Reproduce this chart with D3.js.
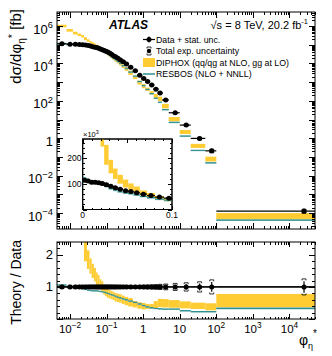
<!DOCTYPE html>
<html>
<head>
<meta charset="utf-8">
<script src="https://cdn.jsdelivr.net/npm/d3@7/dist/d3.min.js"></script>
<style>
  body { margin: 0; background: #fff; }
  svg { display: block; font-family: "Liberation Sans", Arial, Helvetica, sans-serif; }
</style>
</head>
<body>
<svg id="chart" width="332" height="356"></svg>
<script>
// phi*_eta bin edges
const phiEdges = [0, 0.004, 0.008, 0.012, 0.016, 0.020, 0.024, 0.029, 0.034, 0.039, 0.045,
    0.051, 0.057, 0.064, 0.072, 0.081, 0.091, 0.102, 0.114, 0.128, 0.145, 0.165, 0.189,
    0.219, 0.258, 0.312, 0.391, 0.524, 0.695, 0.918, 1.153, 1.496, 1.947, 2.522, 3.277,
    5, 10, 20, 50, 100, 50000];

// measured dsigma/dphi* [fb]
const dataXsec = [114000, 111000, 106000, 106000, 104000, 101000, 97000, 90500, 84500, 78700,
    73400, 70100, 65500, 59700, 54500, 48500, 44300, 40400, 36000, 30600,
    25500, 22700, 18900, 15300, 12200, 9250, 6250, 4040, 2320, 1570,
    1085, 703, 423, 267, 111, 23.2, 5.1, 0.99, 0.214, 0.00013];
// relative uncertainties
const dataStat = [0.02, 0.02, 0.02, 0.02, 0.02, 0.02, 0.02, 0.02, 0.02, 0.02,
    0.02, 0.02, 0.02, 0.02, 0.02, 0.02, 0.02, 0.02, 0.02, 0.02,
    0.02, 0.02, 0.02, 0.02, 0.02, 0.02, 0.02, 0.02, 0.02, 0.025,
    0.03, 0.035, 0.04, 0.05, 0.06, 0.07, 0.09, 0.11, 0.15, 0.18];
const dataTotal = [0.05, 0.05, 0.05, 0.05, 0.05, 0.05, 0.05, 0.05, 0.05, 0.05,
    0.05, 0.05, 0.05, 0.05, 0.05, 0.05, 0.05, 0.05, 0.05, 0.05,
    0.05, 0.05, 0.05, 0.05, 0.05, 0.05, 0.05, 0.05, 0.05, 0.055,
    0.06, 0.065, 0.07, 0.08, 0.09, 0.11, 0.13, 0.16, 0.22, 0.25];

// theory / data
const diphoxRatio = [14, 9.1, 5.6, 4.0, 3.3, 2.85, 2.2, 1.85, 1.65, 1.5,
    1.38, 1.25, 1.17, 1.08, 1.02, 0.92, 0.86, 0.8, 0.77, 0.75,
    0.72, 0.68, 0.66, 0.64, 0.6, 0.56, 0.52, 0.46, 0.42, 0.4,
    0.39, 0.39, 0.45, 0.5, 0.49, 0.47, 0.44, 0.41, 0.38, 0.57];
const diphoxErr = [2.0, 1.4, 0.9, 0.65, 0.5, 0.42, 0.4, 0.29, 0.24, 0.22,
    0.21, 0.2, 0.2, 0.16, 0.16, 0.16, 0.15, 0.14, 0.13, 0.13,
    0.13, 0.13, 0.13, 0.13, 0.13, 0.13, 0.13, 0.1, 0.1, 0.1,
    0.08, 0.08, 0.11, 0.13, 0.13, 0.12, 0.11, 0.1, 0.11, 0.21];
const resbosRatio = [1.08, 1.06, 1.0, 0.98, 0.97, 0.95, 0.93, 0.9, 0.89, 0.88,
    0.88, 0.88, 0.87, 0.86, 0.85, 0.84, 0.82, 0.8, 0.78, 0.76,
    0.74, 0.71, 0.68, 0.66, 0.63, 0.6, 0.56, 0.52, 0.47, 0.42,
    0.38, 0.35, 0.33, 0.32, 0.31, 0.31, 0.26, 0.23, 0.23, 0.33];
const resbosErr = [0.01, 0.01, 0.01, 0.01, 0.01, 0.01, 0.01, 0.01, 0.01, 0.01,
    0.01, 0.01, 0.01, 0.01, 0.01, 0.01, 0.01, 0.01, 0.01, 0.01,
    0.01, 0.01, 0.01, 0.01, 0.01, 0.01, 0.01, 0.01, 0.01, 0.01,
    0.01, 0.01, 0.01, 0.01, 0.01, 0.01, 0.01, 0.01, 0.01, 0.03];

// tick labels
const xTickValues = [0.01, 0.1, 1, 10, 100, 1000, 10000];
const xTickLabels = [["10", "\u22122"], ["10", "\u22121"], ["1", ""], ["10", ""], ["10", "2"], ["10", "3"], ["10", "4"]];
const yTickValues = [1e-4, 1e-2, 1, 1e2, 1e4, 1e6];
const yTickLabels = [["10", "\u22124"], ["10", "\u22122"], ["1", ""], ["10", "2"], ["10", "4"], ["10", "6"]];
const ratioTickValues = [1, 2];
const insetXTickValues = [0, 0.1];
const insetXTickLabels = ["0", "0.1"];
const insetYTickValues = [100, 200];

const YELLOW = "#ffcc33", TEAL = "#2f8f8f", TEAL_LIGHT = "#8cc3c3";

const bins = dataXsec.map((v, i) => ({
    lo: phiEdges[i], hi: phiEdges[i + 1], v: v,
    stat: dataStat[i], tot: dataTotal[i],
    dr: diphoxRatio[i], de: diphoxErr[i],
    rr: resbosRatio[i], re: resbosErr[i]
}));

const svg = d3.select("#chart");
const defs = svg.append("defs");

const mainBox = {x0: 57, x1: 315, y0: 12, y1: 229};
const ratioBox = {x0: 57, x1: 315, y0: 242, y1: 319};
const insetBox = {x0: 82.7, x1: 172, y0: 139, y1: 209.5};

const xScale = d3.scaleLog().domain([0.0044, 50000]).range([mainBox.x0, mainBox.x1]);
const yScale = d3.scaleLog().domain([Math.pow(10, -4.844), Math.pow(10, 6.748)]).range([mainBox.y1, mainBox.y0]);
const rScale = d3.scaleLinear().domain([0, 2.4]).range([ratioBox.y1, ratioBox.y0]);
const xInset = d3.scaleLinear().domain([0, 0.1]).range([insetBox.x0, insetBox.x1]);
const yInset = d3.scaleLinear().domain([0, 275]).range([insetBox.y1, insetBox.y0]);

function addClip(id, b) {
    defs.append("clipPath").attr("id", id).append("rect")
        .attr("x", b.x0).attr("y", b.y0).attr("width", b.x1 - b.x0).attr("height", b.y1 - b.y0);
}
addClip("clipMain", mainBox);
addClip("clipRatio", ratioBox);
addClip("clipInset", insetBox);

function logTicks(d0, d1) {
    const out = [];
    for (let e = Math.floor(Math.log10(d0)); e <= Math.ceil(Math.log10(d1)); e++) {
        for (let k = 1; k < 10; k++) {
            const v = k * Math.pow(10, e);
            if (v >= d0 && v <= d1) out.push({v: v, major: k === 1});
        }
    }
    return out;
}

// ticks pointing inside the box, on both opposite sides
function xTicks(g, scale, box, ticks, majLen, minLen) {
    ticks.forEach(t => {
        const px = Math.round(scale(t.v)) + 0.5;
        const len = t.major ? majLen : minLen;
        g.append("line").attr("x1", px).attr("x2", px).attr("y1", box.y1).attr("y2", box.y1 - len);
        g.append("line").attr("x1", px).attr("x2", px).attr("y1", box.y0).attr("y2", box.y0 + len);
    });
}
function yTicks(g, scale, box, ticks, majLen, minLen, both) {
    ticks.forEach(t => {
        const py = Math.round(scale(t.v)) + 0.5;
        const len = t.major ? majLen : minLen;
        g.append("line").attr("y1", py).attr("y2", py).attr("x1", box.x0).attr("x2", box.x0 + len);
        if (both) g.append("line").attr("y1", py).attr("y2", py).attr("x1", box.x1).attr("x2", box.x1 - len);
    });
}

function drawFrame(b, fill) {
    svg.append("rect").attr("x", b.x0).attr("y", b.y0)
        .attr("width", b.x1 - b.x0).attr("height", b.y1 - b.y0)
        .attr("fill", fill || "none").attr("stroke", "#000").attr("stroke-width", 1);
}

// generic drawing of theory bands and data points
function drawContent(clipId, xs, ys, base) {
    const g = svg.append("g").attr("clip-path", "url(#" + clipId + ")");
    const xmin = xs.domain()[0];
    const xL = d => xs(Math.max(d.lo, xmin));
    const xR = d => xs(d.hi);
    const xC = d => xs((d.lo + d.hi) / 2);

    // DIPHOX band
    g.selectAll(null).data(bins).enter().append("rect")
        .attr("x", xL)
        .attr("width", d => Math.max(0, xR(d) - xL(d)))
        .attr("y", d => ys(base(d) * (d.dr + d.de)))
        .attr("height", d => ys(base(d) * Math.max(d.dr - d.de, 1e-9)) - ys(base(d) * (d.dr + d.de)))
        .attr("fill", YELLOW);

    // RESBOS band and central line
    g.selectAll(null).data(bins).enter().append("rect")
        .attr("x", xL)
        .attr("width", d => Math.max(0, xR(d) - xL(d)))
        .attr("y", d => ys(base(d) * (d.rr + d.re)))
        .attr("height", d => Math.max(1.2, ys(base(d) * (d.rr - d.re)) - ys(base(d) * (d.rr + d.re))))
        .attr("fill", TEAL_LIGHT);
    g.selectAll(null).data(bins).enter().append("line")
        .attr("x1", xL).attr("x2", xR)
        .attr("y1", d => ys(base(d) * d.rr)).attr("y2", d => ys(base(d) * d.rr))
        .attr("stroke", TEAL).attr("stroke-width", 1.2);

    // data: bin width, stat error, total error brackets, marker
    g.selectAll(null).data(bins).enter().append("line")
        .attr("x1", xL).attr("x2", xR)
        .attr("y1", d => ys(base(d) * 1)).attr("y2", d => ys(base(d) * 1))
        .attr("stroke", "#000").attr("stroke-width", 1.2);
    g.selectAll(null).data(bins).enter().append("line")
        .attr("x1", xC).attr("x2", xC)
        .attr("y1", d => ys(base(d) * (1 + d.stat))).attr("y2", d => ys(base(d) * (1 - d.stat)))
        .attr("stroke", "#000").attr("stroke-width", 1.2);
    bins.forEach(d => {
        const cx = xC(d);
        [1 + d.tot, 1 - d.tot].forEach((f, k) => {
            const py = ys(base(d) * f);
            const dir = k === 0 ? 1.5 : -1.5;
            g.append("path")
                .attr("d", "M" + (cx - 2) + "," + (py + dir) + "V" + py + "H" + (cx + 2) + "V" + (py + dir))
                .attr("fill", "none").attr("stroke", "#000").attr("stroke-width", 0.8);
        });
    });
    g.selectAll(null).data(bins).enter().append("circle")
        .attr("cx", xC).attr("cy", d => ys(base(d)))
        .attr("r", 2.5).attr("fill", "#000");
    return g;
}

function supText(parent, x, y, anchor, size, parts) {
    const t = parent.append("text").attr("x", x).attr("y", y)
        .attr("text-anchor", anchor).style("font-size", size + "px");
    t.append("tspan").text(parts[0]);
    if (parts[1]) t.append("tspan").attr("dy", -size * 0.42).style("font-size", (size * 0.72) + "px").text(parts[1]);
    return t;
}

// ---------- main panel ----------
svg.append("rect").attr("width", 332).attr("height", 356).attr("fill", "#fff");
drawContent("clipMain", xScale, yScale, d => d.v);

const tickG = svg.append("g").attr("stroke", "#000").attr("stroke-width", 1).attr("shape-rendering", "crispEdges");
xTicks(tickG, xScale, mainBox, logTicks(xScale.domain()[0], xScale.domain()[1]), 6, 3);
yTicks(tickG, yScale, mainBox, logTicks(yScale.domain()[0], yScale.domain()[1]), 6, 3, true);
drawFrame(mainBox);

// labels sit a little below their ticks, as in the ROOT output
yTickValues.forEach((v, i) => {
    supText(svg, 53, yScale(v) + 7.5, "end", 13, yTickLabels[i]);
});

// y title
const yTitle = svg.append("text")
    .attr("transform", "translate(21,9) rotate(-90)")
    .attr("text-anchor", "end").style("font-size", "15px");
yTitle.append("tspan").text("d\u03c3/d\u03c6");
yTitle.append("tspan").attr("dy", 3.5).style("font-size", "10px").text("\u03b7");
yTitle.append("tspan").attr("dy", -9).style("font-size", "11px").text("*");
yTitle.append("tspan").attr("dy", 5.5).text(" [fb]");

// labels
svg.append("text").attr("x", 109).attr("y", 28.5)
    .style("font-size", "12px").style("font-weight", "bold").style("font-style", "italic").text("ATLAS");
const lumi = svg.append("text").attr("x", 308).attr("y", 28.5)
    .attr("text-anchor", "end").style("font-size", "11px");
lumi.append("tspan").text("\u221as = 8 TeV, 20.2 fb");
lumi.append("tspan").attr("dy", -4.5).style("font-size", "7.5px").text("-1");

// legend
const lg = svg.append("g");
const legX = 149, legTextX = 156;
const legRows = [39.5, 51, 62.5, 74];
lg.append("line").attr("x1", legX - 6).attr("x2", legX + 6).attr("y1", legRows[0]).attr("y2", legRows[0]).attr("stroke", "#000").attr("stroke-width", 1.2);
lg.append("line").attr("x1", legX).attr("x2", legX).attr("y1", legRows[0] - 3).attr("y2", legRows[0] + 3).attr("stroke", "#000").attr("stroke-width", 1.2);
lg.append("circle").attr("cx", legX).attr("cy", legRows[0]).attr("r", 2.5).attr("fill", "#000");
[-1, 1].forEach(s => {
    const py = legRows[1] + s * 4;
    lg.append("path").attr("d", "M" + (legX - 2) + "," + (py - s * 1.5) + "V" + py + "H" + (legX + 2) + "V" + (py - s * 1.5))
        .attr("fill", "none").attr("stroke", "#000").attr("stroke-width", 0.8);
});
lg.append("circle").attr("cx", legX).attr("cy", legRows[1]).attr("r", 2.2).attr("fill", "#000");
lg.append("rect").attr("x", legX - 6).attr("y", legRows[2] - 4.5).attr("width", 12).attr("height", 9).attr("fill", YELLOW);
lg.append("line").attr("x1", legX - 6).attr("x2", legX + 6).attr("y1", legRows[3]).attr("y2", legRows[3]).attr("stroke", TEAL).attr("stroke-width", 1.5);
const legLabels = ["Data + stat. unc.", "Total exp. uncertainty", "DIPHOX (qq/qg at NLO, gg at LO)", "RESBOS (NLO + NNLL)"];
legLabels.forEach((s, i) => {
    lg.append("text").attr("x", legTextX).attr("y", legRows[i] + 3.2).style("font-size", "8.8px").text(s);
});

// ---------- inset ----------
drawFrame(insetBox, "#fff");
drawContent("clipInset", xInset, yInset, d => d.v / 1000);
const insetTicks = svg.append("g").attr("stroke", "#000").attr("stroke-width", 1).attr("shape-rendering", "crispEdges");
xTicks(insetTicks, xInset, insetBox, d3.range(0, 0.1001, 0.01).map((v, i) => ({v: v, major: i % 5 === 0})), 4, 2);
yTicks(insetTicks, yInset, insetBox, d3.range(0, 275, 20).map((v, i) => ({v: v, major: i % 5 === 0})), 4, 2, true);
drawFrame(insetBox);
insetXTickValues.forEach((v, i) => {
    svg.append("text").attr("x", xInset(v)).attr("y", 218).attr("text-anchor", "middle")
        .style("font-size", "8.5px").text(insetXTickLabels[i]);
});
insetYTickValues.forEach(v => {
    svg.append("text").attr("x", 81.5).attr("y", yInset(v) + 3).attr("text-anchor", "end")
        .style("font-size", "8.5px").text(v);
});
supText(svg, 83, 137, "start", 7.5, ["\u00d710", "3"]);

// ---------- ratio panel ----------
drawContent("clipRatio", xScale, rScale, d => 1);
svg.append("line").attr("x1", ratioBox.x0).attr("x2", ratioBox.x1)
    .attr("y1", rScale(1)).attr("y2", rScale(1)).attr("stroke", "#000").attr("stroke-width", 1.4);
const rTickG = svg.append("g").attr("stroke", "#000").attr("stroke-width", 1).attr("shape-rendering", "crispEdges");
xTicks(rTickG, xScale, ratioBox, logTicks(xScale.domain()[0], xScale.domain()[1]), 5, 2.5);
yTicks(rTickG, rScale, ratioBox, d3.range(0, 2.41, 0.2).map((v, i) => ({v: v, major: i % 5 === 0})), 6, 3, true);
drawFrame(ratioBox);

ratioTickValues.forEach(v => {
    svg.append("text").attr("x", 53).attr("y", rScale(v) + 4.5).attr("text-anchor", "end")
        .style("font-size", "13px").text(v);
});
xTickValues.forEach((v, i) => {
    supText(svg, xScale(v), 333, "middle", 11.5, xTickLabels[i]);
});

svg.append("text")
    .attr("transform", "translate(21,240) rotate(-90)")
    .attr("text-anchor", "end").style("font-size", "14px").text("Theory / Data");

const xTitle = svg.append("text").attr("x", 299).attr("y", 345).style("font-size", "14px");
xTitle.append("tspan").text("\u03c6");
xTitle.append("tspan").attr("dy", 4).style("font-size", "9px").text("\u03b7");
xTitle.append("tspan").attr("dy", -12).style("font-size", "10px").text("*");
</script>
</body>
</html>
